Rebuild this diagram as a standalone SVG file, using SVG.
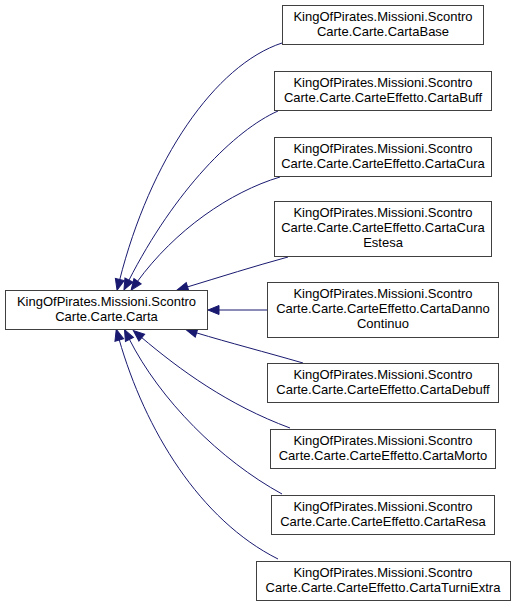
<svg xmlns="http://www.w3.org/2000/svg" width="516" height="605" viewBox="0 0 516 605">
<style>
.box{fill:#ffffff;stroke:#404040;stroke-width:1}
.lbl{font-family:"Liberation Sans",Arial,sans-serif;font-size:13px;fill:#000000;text-anchor:middle}
.edge{fill:none;stroke:#191970;stroke-width:1;marker-end:url(#arr)}
</style>
<defs>
<marker id="arr" markerUnits="userSpaceOnUse" markerWidth="12" markerHeight="10" refX="1" refY="4.5" orient="auto" viewBox="0 0 12 9" overflow="visible">
<path d="M0,0 L11,4.5 L0,9 Z" fill="#191970" stroke="#191970" stroke-width="1"/>
</marker>
</defs>
<rect width="516" height="605" fill="#ffffff"/>
<g id="connectors">
<path class="edge" d="M282,43 C215,65 150,160 119.5,280.5"/>
<path class="edge" d="M278,111 C235,130 175,190 128.5,281"/>
<path class="edge" d="M280,177 C230,192 175,230 137,282"/>
<path class="edge" d="M288,257 C255,266 220,277 186.6,287.2"/>
<path class="edge" d="M267,310 L218,310"/>
<path class="edge" d="M303,363 C265,352 230,343 195.6,332.6"/>
<path class="edge" d="M290,428 C228,405 180,370 141,337"/>
<path class="edge" d="M282,494 C220,460 160,400 129,338.6"/>
<path class="edge" d="M278,559 C200,520 145,430 119,339"/>
</g>
<g id="node_Carta">
<rect class="box" x="5.5" y="290.5" width="202" height="39"/>
<text class="lbl" x="106.5" y="306">KingOfPirates.Missioni.Scontro</text>
<text class="lbl" x="106.5" y="321">Carte.Carte.Carta</text>
</g>
<g id="node_CartaBase">
<rect class="box" x="282.5" y="5.5" width="201" height="39"/>
<text class="lbl" x="383" y="21">KingOfPirates.Missioni.Scontro</text>
<text class="lbl" x="383" y="36">Carte.Carte.CartaBase</text>
</g>
<g id="node_CartaBuff">
<rect class="box" x="274.5" y="71.5" width="217" height="39"/>
<text class="lbl" x="383" y="87">KingOfPirates.Missioni.Scontro</text>
<text class="lbl" x="383" y="102">Carte.Carte.CarteEffetto.CartaBuff</text>
</g>
<g id="node_CartaCura">
<rect class="box" x="274.5" y="137.5" width="217" height="39"/>
<text class="lbl" x="383" y="153">KingOfPirates.Missioni.Scontro</text>
<text class="lbl" x="383" y="168">Carte.Carte.CarteEffetto.CartaCura</text>
</g>
<g id="node_CartaCuraEstesa">
<rect class="box" x="274.5" y="201.5" width="217" height="55"/>
<text class="lbl" x="383" y="217">KingOfPirates.Missioni.Scontro</text>
<text class="lbl" x="383" y="232">Carte.Carte.CarteEffetto.CartaCura</text>
<text class="lbl" x="383" y="247">Estesa</text>
</g>
<g id="node_CartaDannoContinuo">
<rect class="box" x="267.5" y="282.5" width="231" height="55"/>
<text class="lbl" x="383" y="298">KingOfPirates.Missioni.Scontro</text>
<text class="lbl" x="383" y="313">Carte.Carte.CarteEffetto.CartaDanno</text>
<text class="lbl" x="383" y="328">Continuo</text>
</g>
<g id="node_CartaDebuff">
<rect class="box" x="267.5" y="363.5" width="231" height="39"/>
<text class="lbl" x="383" y="379">KingOfPirates.Missioni.Scontro</text>
<text class="lbl" x="383" y="394">Carte.Carte.CarteEffetto.CartaDebuff</text>
</g>
<g id="node_CartaMorto">
<rect class="box" x="270.5" y="429.5" width="225" height="39"/>
<text class="lbl" x="383" y="445">KingOfPirates.Missioni.Scontro</text>
<text class="lbl" x="383" y="460">Carte.Carte.CarteEffetto.CartaMorto</text>
</g>
<g id="node_CartaResa">
<rect class="box" x="271.5" y="495.5" width="223" height="39"/>
<text class="lbl" x="383" y="511">KingOfPirates.Missioni.Scontro</text>
<text class="lbl" x="383" y="526">Carte.Carte.CarteEffetto.CartaResa</text>
</g>
<g id="node_CartaTurniExtra">
<rect class="box" x="256.5" y="561.5" width="254" height="39"/>
<text class="lbl" x="383" y="577">KingOfPirates.Missioni.Scontro</text>
<text class="lbl" x="383" y="592">Carte.Carte.CarteEffetto.CartaTurniExtra</text>
</g>
</svg>
